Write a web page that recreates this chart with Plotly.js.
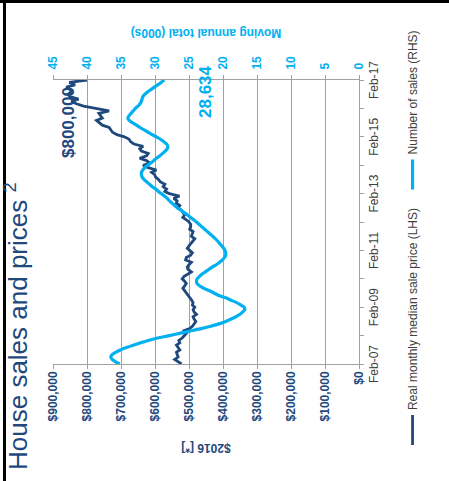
<!DOCTYPE html>
<html>
<head>
<meta charset="utf-8">
<script src="https://cdn.plot.ly/plotly-3.0.1.min.js"></script>
<style>
html,body{margin:0;padding:0;background:#fff;overflow:hidden;width:449px;height:481px;}
#chart{position:absolute;left:0;top:0;width:481px;height:449px;transform-origin:0 0;transform:translate(0px,481px) rotate(-90deg);}
</style>
</head>
<body>
<div id="chart"></div>
<script>
// Monthly series, Feb-07 .. Feb-17 (121 months)
const firstYear = 2007, firstMonth = 2, monthCount = 121;

// Real monthly median sale price ($2016), LHS
const medianPrice = [
 522000,530000,542000,532000,535000,537000,527000,532000,537000,527000,
 530000,520000,513000,508000,518000,498000,490000,485000,480000,485000,
 488000,478000,485000,488000,483000,490000,488000,492000,498000,503000,
 508000,513000,518000,513000,508000,513000,520000,515000,505000,493000,
 503000,505000,500000,493000,510000,508000,495000,490000,498000,505000,
 500000,495000,490000,483000,493000,490000,488000,498000,495000,495000,
 500000,508000,518000,513000,518000,522000,532000,527000,537000,535000,
 545000,528000,558000,571000,566000,576000,571000,584000,590000,598000,
 601000,610000,596000,620000,635000,615000,625000,645000,625000,620000,
 640000,645000,635000,662000,672000,676000,690000,712000,725000,730000,
 735000,755000,765000,772000,755000,760000,765000,735000,780000,810000,
 831000,846000,825000,850000,856000,846000,850000,861000,835000,852000,
 800000
];

// Number of sales, moving annual total (000s), RHS
const salesMAT = [
 35.2,35.8,36.3,36.5,36.3,35.8,35.1,34.2,33.2,32.1,
 31.0,29.6,27.9,26.4,24.8,23.2,21.8,20.6,19.6,18.8,
 18.1,17.5,17.1,16.8,16.9,17.4,18.0,18.8,19.6,20.6,
 21.3,22.0,22.8,23.4,23.8,23.9,23.8,23.5,23.1,22.6,
 22.1,21.6,21.0,20.5,20.1,19.8,19.6,19.6,19.7,19.9,
 20.2,20.5,20.8,21.1,21.5,21.9,22.3,22.7,23.1,23.5,
 23.9,24.3,24.8,25.2,25.7,26.2,26.7,27.1,27.5,27.9,
 28.2,28.6,29.1,29.5,29.9,30.4,30.8,31.2,31.6,31.9,
 32.0,32.0,31.8,31.5,31.1,30.6,30.2,29.8,29.3,28.9,
 28.5,28.2,28.1,28.3,28.7,29.2,29.8,30.4,31.0,31.6,
 32.2,32.7,33.3,33.8,34.0,33.8,33.5,33.2,32.9,32.5,
 32.2,32.0,31.9,31.8,31.5,31.1,30.6,30.1,29.6,29.1,
 28.634
];

const seriesNames = ['Real monthly median sale price (LHS)', 'Number of sales (RHS)'];
const titleText = 'House sales and prices <sup>2</sup>';
const leftAxisTitle = '$2016 [*]';
const rightAxisTitle = 'Moving annual total (000s)';

const months = [];
for (let i = 0; i < monthCount; i++) {
  const idx = (firstMonth - 1) + i;
  const y = firstYear + Math.floor(idx / 12);
  const m = (idx % 12) + 1;
  months.push(y + '-' + String(m).padStart(2, '0') + '-01');
}

const navy = '#1F497D';
const cyan = '#00B0F0';
const grid = '#A0A0A0';
const FONT = 'Liberation Sans, Arial, sans-serif';

const lastPrice = medianPrice[medianPrice.length - 1];
const lastSales = salesMAT[salesMAT.length - 1];

const traces = [
  {x: months, y: medianPrice, type: 'scatter', mode: 'lines', name: seriesNames[0],
   line: {color: navy, width: 2.8}, yaxis: 'y', legend: 'legend'},
  {x: months, y: salesMAT, type: 'scatter', mode: 'lines', name: seriesNames[1],
   line: {color: cyan, width: 3.2, shape: 'spline', smoothing: 0.6}, yaxis: 'y2', legend: 'legend2'}
];

const legendFont = {family: FONT, size: 12, color: '#404040'};

const layout = {
  width: 481, height: 449,
  margin: {l: 117, r: 80, t: 53, b: 90},
  paper_bgcolor: '#fff', plot_bgcolor: '#fff',
  font: {family: FONT, size: 12, color: '#404040'},
  title: {text: titleText, font: {family: FONT, size: 26, color: navy},
          x: 11/481, xanchor: 'left', xref: 'container', y: 1 - 9/449, yanchor: 'top', yref: 'container'},
  showlegend: true,
  legend: {orientation: 'h', x: -0.303, xanchor: 'left', y: -0.175, yanchor: 'middle',
           font: legendFont, itemwidth: 30, bgcolor: 'rgba(0,0,0,0)'},
  legend2: {orientation: 'h', x: 0.597, xanchor: 'left', y: -0.175, yanchor: 'middle',
           font: legendFont, itemwidth: 30, bgcolor: 'rgba(0,0,0,0)'},
  xaxis: {type: 'date', range: [months[0], months[months.length - 1]],
          tickformat: '%b-%y', dtick: 'M24', tick0: months[0],
          ticks: 'outside', ticklen: 4, tickcolor: grid, showline: true, linecolor: grid, linewidth: 1,
          showgrid: false, zeroline: false,
          tickfont: {family: FONT, size: 12, color: '#404040'},
          minor: {dtick: 'M12', tick0: months[0], ticks: 'outside', ticklen: 4, tickcolor: grid, showgrid: false}},
  yaxis: {range: [0, 900000], dtick: 100000, tickprefix: '$', tickformat: ',d',
          showgrid: true, gridcolor: grid, gridwidth: 1, zeroline: false,
          showline: true, linecolor: grid, ticks: 'outside', ticklen: 4, tickcolor: grid,
          tickfont: {family: FONT, size: 12, color: navy, weight: 'bold'},
          title: {text: leftAxisTitle, font: {family: FONT, size: 12, color: navy, weight: 'bold'}, standoff: 19}},
  yaxis2: {range: [0, 45], dtick: 5, overlaying: 'y', side: 'right',
           showgrid: false, zeroline: false, showline: true, linecolor: grid,
           ticks: 'outside', ticklen: 4, tickcolor: grid, ticklabelstandoff: 3,
           tickfont: {family: FONT, size: 12, color: cyan, weight: 'bold'},
           title: {text: rightAxisTitle, font: {family: FONT, size: 12, color: cyan, weight: 'bold'}, standoff: 19}},
  annotations: [
    {text: '$' + lastPrice.toLocaleString('en-US'), xref: 'paper', yref: 'paper', x: 0.850, y: 0.948,
     xanchor: 'center', yanchor: 'middle',
     showarrow: false, font: {family: FONT, size: 17, color: navy, weight: 'bold'}},
    {text: Math.round(lastSales * 1000).toLocaleString('en-US'), xref: 'paper', yref: 'paper', x: 0.9595, y: 0.5016,
     xanchor: 'center', yanchor: 'middle',
     showarrow: false, font: {family: FONT, size: 17, color: cyan, weight: 'bold'}}
  ],
  shapes: [
    {type: 'line', xref: 'paper', yref: 'paper', x0: -0.42, x1: 1.29, y0: 1.1585, y1: 1.1585,
     line: {color: '#000', width: 3}},
    {type: 'line', xref: 'paper', yref: 'paper', x0: 1.2764, x1: 1.2764, y0: -0.3, y1: 1.2,
     line: {color: '#000', width: 3}}
  ]
};

Plotly.newPlot('chart', traces, layout, {displayModeBar: false, staticPlot: true});
</script>
</body>
</html>
